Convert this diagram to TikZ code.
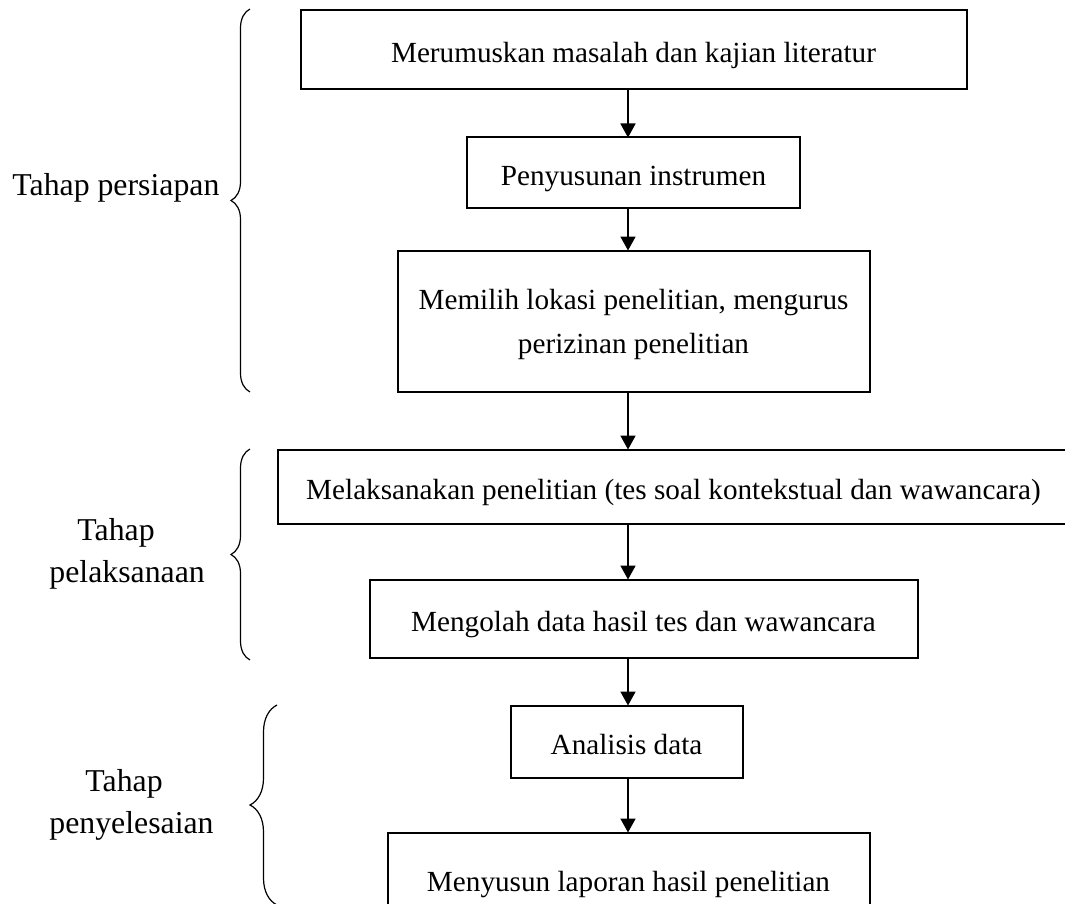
\documentclass[tikz,border=0pt]{standalone}
\usepackage{fontspec}
\setmainfont{Liberation Serif}
\usepackage{tikz}
\usetikzlibrary{arrows.meta,positioning,decorations.pathreplacing}
\tikzset{
 block/.style={draw=black,line width=1pt,fill=white,align=center,
   font=\fontsize{14.6}{22}\selectfont,inner sep=0pt,outer sep=0pt,
   text height=13pt,text depth=0pt},
 arr/.style={-{Triangle[length=7pt,width=7.5pt]},line width=0.9pt,draw=black},
 curly/.style={decorate,decoration={brace,amplitude=#1},line width=0.6pt},
 phase/.style={align=left,font=\fontsize{15.9}{21}\selectfont,inner sep=0pt,anchor=west}
}
\begin{document}
\begin{tikzpicture}[x=0.5pt,y=-0.5pt]
\useasboundingbox (0,0) rectangle (1065,904);
\coordinate (col) at (628,0);
\node[block,minimum width=333pt,minimum height=39.5pt] (b1) at (633.5,50) {Merumuskan masalah dan kajian literatur};
\node[block,minimum width=166.5pt,minimum height=35pt,below=24pt of b1] (b2) {Penyusunan instrumen};
\node[block,minimum width=236pt,minimum height=70.5pt,below=21.5pt of b2,
  text height=32pt,text depth=0pt] (b3) {Memilih lokasi penelitian, mengurus\\perizinan penelitian};
\node[block,minimum width=396pt,minimum height=37pt,below=29pt of b3,xshift=20pt] (b4) {Melaksanakan penelitian (tes soal kontekstual dan wawancara)};
\node[block,minimum width=274pt,minimum height=39pt,below=28pt of b4,xshift=-15pt] (b5) {Mengolah data hasil tes dan wawancara};
\node[block,minimum width=116pt,minimum height=36pt,below=24pt of b5,xshift=-8.5pt] (b6) {Analisis data};
\node[block,minimum width=241pt,minimum height=46pt,below=27.5pt of b6,xshift=1pt] (b7) {Menyusun laporan hasil penelitian};
\foreach \u/\v in {b1/b2,b2/b3,b3/b4,b4/b5,b5/b6,b6/b7}
  \draw[arr] (\u.south -| col) -- (\v.north -| col);
% braces and phase names
\coordinate (p1a) at (250,392); \coordinate (p1b) at (250,9);
\coordinate (p2a) at (250,660); \coordinate (p2b) at (250,449);
\coordinate (p3a) at (277,905); \coordinate (p3b) at (277,705);
\draw[curly=9.5pt] (p1a) -- (p1b);
\draw[curly=9.5pt] (p2a) -- (p2b);
\draw[curly=13.5pt] (p3a) -- (p3b);
\node[phase] (s1) at (12,188) {Tahap persiapan};
\node[phase] (s2) at (49,554) {\hspace{14pt}Tahap\\pelaksanaan};
\node[phase] (s3) at (49,805) {\hspace{18pt}Tahap\\penyelesaian};
\end{tikzpicture}
\end{document}
